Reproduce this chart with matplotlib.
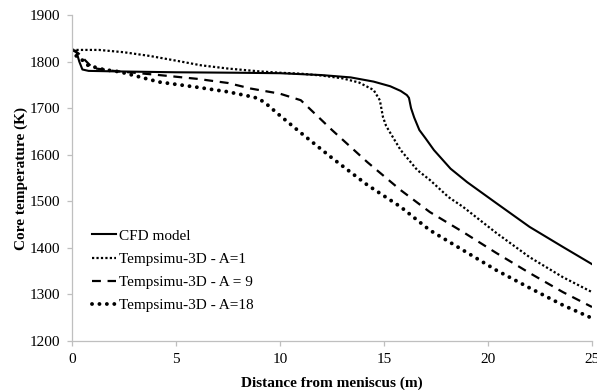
import matplotlib
matplotlib.use('Agg')
import matplotlib.pyplot as plt

# CFD model
cfd_x = [0, 0.2, 0.35, 0.5, 0.8, 2, 5, 8, 10, 12, 13.4, 14.5, 15.3, 15.8, 16.1, 16.2,
         16.3, 16.45, 16.7, 17.0, 17.4, 18.2, 19.0, 20.4, 22.0, 23.6, 25]
cfd_t = [1825, 1823, 1800, 1783, 1780, 1779, 1777, 1776, 1775, 1771, 1766, 1757, 1747,
         1737, 1728, 1722, 1700, 1680, 1653, 1635, 1610, 1570, 1541, 1496, 1445, 1402, 1365]

# Tempsimu-3D, A=1
a1_x = [0, 1.3, 2.5, 3.75, 5, 6.2, 7.5, 9, 10, 11, 12, 13, 13.8, 14.5, 14.8, 14.95,
        15.1, 15.3, 15.8, 16.6, 17.2, 18.1, 18.8, 20.4, 22.0, 23.6, 25]
a1_t = [1825, 1825, 1820, 1812, 1802, 1792, 1785, 1779, 1776, 1774, 1770, 1764, 1755,
        1739, 1717, 1681, 1662, 1647, 1610, 1567, 1546, 1509, 1488, 1432, 1380, 1337, 1305]

# Tempsimu-3D, A=9
a9_x = [0, 0.3, 1.0, 2, 3, 4.2, 6, 7.5, 8.6, 10.0, 11.0, 12.5, 14.2, 15.8, 17.2,
        18.8, 20.4, 22.0, 23.6, 25]
a9_t = [1825, 1818, 1786, 1780, 1776, 1771, 1763, 1754, 1742, 1731, 1717, 1653, 1584,
        1524, 1477, 1434, 1389, 1346, 1305, 1273]

# Tempsimu-3D, A=18
a18_x = [0, 0.15, 0.5, 0.77, 1.5, 2.3, 4.2, 6, 7.5, 8.7, 9.0, 9.4, 10.0, 11.0, 12.5,
         14.2, 15.8, 17.2, 18.8, 20.4, 22.0, 23.6, 25]
a18_t = [1825, 1814, 1803, 1792, 1783, 1778, 1756, 1745, 1735, 1724, 1720, 1707, 1684,
         1647, 1593, 1535, 1488, 1438, 1395, 1352, 1314, 1277, 1249]

labels = ['CFD model', 'Tempsimu-3D - A=1', 'Tempsimu-3D - A = 9', 'Tempsimu-3D - A=18']

plt.rcParams['font.family'] = ['Liberation Serif', 'DejaVu Serif']
plt.rcParams['font.size'] = 11

fig = plt.figure(figsize=(5.97, 3.90), dpi=100)
ax = fig.add_axes([72 / 597, 1 - 341 / 390, 520 / 597, 326 / 390])

ax.plot(cfd_x, cfd_t, color='black', lw=1.5, label=labels[0])
ax.plot(a1_x, a1_t, color='black', lw=1.6, linestyle=(0, (1, 1)), label=labels[1])
ax.plot(a9_x, a9_t, color='black', lw=1.6, linestyle=(0, (4, 3)), label=labels[2])
ax.plot(a18_x, a18_t, color='black', lw=2.8, linestyle=(0, (0.01, 1.9)),
        dash_capstyle='round', label=labels[3])

ax.set_xlim(0, 25)
ax.set_ylim(1200, 1900)
ax.set_xticks([0, 5, 10, 15, 20, 25])
ax.set_yticks([1200, 1300, 1400, 1500, 1600, 1700, 1800, 1900])

for s in ['top', 'right']:
    ax.spines[s].set_visible(False)
for s in ['left', 'bottom']:
    ax.spines[s].set_color('#bfbfbf')
    ax.spines[s].set_linewidth(0.9)
ax.tick_params(axis='both', direction='out', length=3.5, width=0.9, color='#bfbfbf',
               labelsize=11, pad=5)

ax.set_xlabel('Distance from meniscus (m)', fontweight='bold', fontsize=11, labelpad=8)
ax.set_ylabel('Core temperature (K)', fontweight='bold', fontsize=11, labelpad=1)

ax.legend(loc='upper left', bbox_to_anchor=(92 / 597, 1 - 229 / 390),
          bbox_transform=fig.transFigure, frameon=False, fontsize=11,
          handlelength=1.6, handletextpad=0.15, labelspacing=0.62,
          borderpad=0, borderaxespad=0)

fig.savefig('out.png', dpi=100)
